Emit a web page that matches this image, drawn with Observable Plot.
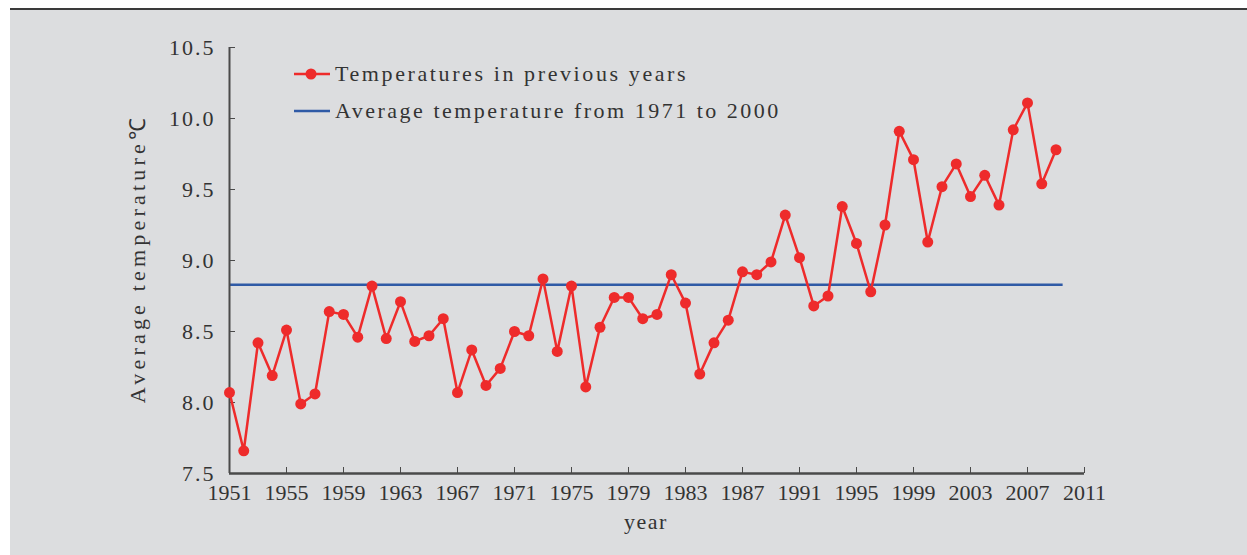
<!DOCTYPE html>
<html>
<head>
<meta charset="utf-8">
<script src="https://cdn.jsdelivr.net/npm/d3@7"></script>
<script src="https://cdn.jsdelivr.net/npm/@observablehq/plot@0.6"></script>
<style>
  html, body { margin: 0; padding: 0; background: #ffffff; }
  #bg { position: absolute; left: 10px; top: 8px; width: 1237px; height: 547px; background: #dcdddf; border-top: 2px solid #3a3a3a; box-sizing: border-box; }
  #chart { position: absolute; left: 0; top: 0; }
  #chart svg { display: block; }
  #chart g[aria-label="y-axis tick label"] text { letter-spacing: 2px; }
  .lbl-y { letter-spacing: 4.2px; }
  .lbl-x { letter-spacing: 1.5px; }
  #legend { position: absolute; left: 294px; top: 60px; font-family: "Liberation Serif", serif; font-size: 22px; color: #333; letter-spacing: 2.6px; }
  #legend .row { display: flex; align-items: center; height: 28px; margin-bottom: 9px; }
  #legend .row2 { letter-spacing: 2.5px; }
  #legend svg { margin-right: 5px; }
</style>
</head>
<body>
<div id="bg"></div>
<div id="chart"></div>
<div id="legend"></div>
<script>
// ---- data ----
const years = [1951,1952,1953,1954,1955,1956,1957,1958,1959,1960,
               1961,1962,1963,1964,1965,1966,1967,1968,1969,1970,
               1971,1972,1973,1974,1975,1976,1977,1978,1979,1980,
               1981,1982,1983,1984,1985,1986,1987,1988,1989,1990,
               1991,1992,1993,1994,1995,1996,1997,1998,1999,2000,
               2001,2002,2003,2004,2005,2006,2007,2008,2009];
const temps = [8.07,7.66,8.42,8.19,8.51,7.99,8.06,8.64,8.62,8.46,
               8.82,8.45,8.71,8.43,8.47,8.59,8.07,8.37,8.12,8.24,
               8.50,8.47,8.87,8.36,8.82,8.11,8.53,8.74,8.74,8.59,
               8.62,8.90,8.70,8.20,8.42,8.58,8.92,8.90,8.99,9.32,
               9.02,8.68,8.75,9.38,9.12,8.78,9.25,9.91,9.71,9.13,
               9.52,9.68,9.45,9.60,9.39,9.92,10.11,9.54,9.78];
const avgTemp = 8.83;
const avgSpan = [1951, 2009.5];
const xTicks = [1951,1955,1959,1963,1967,1971,1975,1979,1983,1987,1991,1995,1999,2003,2007,2011];
const yTicks = [7.5,8.0,8.5,9.0,9.5,10.0,10.5];
const seriesNames = ["Temperatures in previous years", "Average temperature from 1971 to 2000"];
const xLabel = "year";
const yLabel = "Average temperature℃";

const red = "#ee2b2b";
const blue = "#2f5aa6";
const axisColor = "#4a4a4a";
const textColor = "#333333";

const data = years.map((y, i) => ({year: y, temp: temps[i]}));

const chart = Plot.plot({
  width: 1247,
  height: 555,
  marginLeft: 229,
  marginRight: 163,
  marginTop: 47,
  marginBottom: 82,
  style: {background: "transparent", fontFamily: "Liberation Serif, serif", color: textColor},
  x: {domain: [1951, 2011]},
  y: {domain: [7.5, 10.5]},
  marks: [
    Plot.ruleY([avgTemp], {x1: avgSpan[0], x2: avgSpan[1], stroke: blue, strokeWidth: 2.5}),
    Plot.axisX(xTicks, {tickSize: -6, tickPadding: 17, tickFormat: d => `${d}`, fontSize: 22, stroke: axisColor, fill: textColor, label: null}),
    Plot.axisY(yTicks, {tickSize: -6, tickPadding: 20, tickFormat: d => d.toFixed(1), fontSize: 22, stroke: axisColor, fill: textColor, label: null}),
    Plot.ruleX([1951], {stroke: axisColor, strokeWidth: 2}),
    Plot.ruleY([7.5], {stroke: axisColor, strokeWidth: 2.5}),
    Plot.line(data, {x: "year", y: "temp", stroke: red, strokeWidth: 2.5}),
    Plot.dot(data, {x: "year", y: "temp", r: 5.5, fill: red}),
    Plot.text([yLabel], {text: d => d, frameAnchor: "left", textAnchor: "middle", dx: -92, dy: -2, rotate: -90, fontSize: 22, fill: textColor, className: "lbl-y"}),
    Plot.text([xLabel], {text: d => d, frameAnchor: "bottom", dx: -11, dy: 55, fontSize: 22, fill: textColor, className: "lbl-x"})
  ]
});
document.getElementById("chart").appendChild(chart);

// legend
const legend = d3.select("#legend");
const r1 = legend.append("div").attr("class", "row");
const s1 = r1.append("svg").attr("width", 36).attr("height", 14);
s1.append("line").attr("x1", 0).attr("x2", 36).attr("y1", 7).attr("y2", 7).attr("stroke", red).attr("stroke-width", 2.5);
s1.append("circle").attr("cx", 17).attr("cy", 7).attr("r", 5.5).attr("fill", red);
r1.append("span").text(seriesNames[0]);
const r2 = legend.append("div").attr("class", "row row2");
const s2 = r2.append("svg").attr("width", 36).attr("height", 14);
s2.append("line").attr("x1", 0).attr("x2", 36).attr("y1", 7).attr("y2", 7).attr("stroke", blue).attr("stroke-width", 2.5);
r2.append("span").text(seriesNames[1]);
</script>
</body>
</html>
